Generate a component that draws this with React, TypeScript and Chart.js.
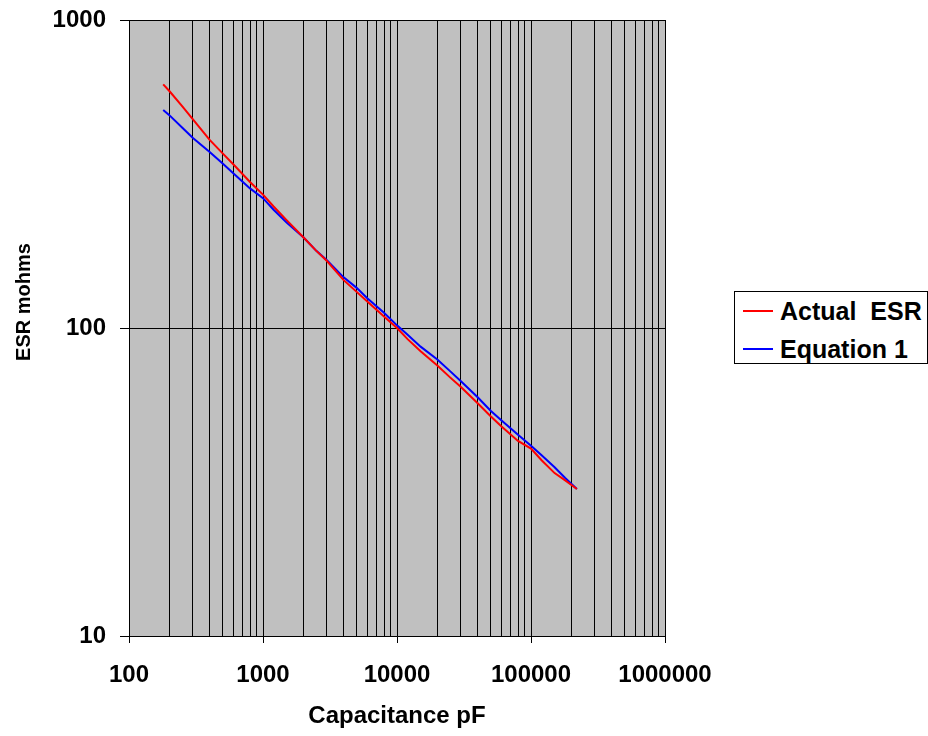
import React, { useEffect, useRef } from "react";
import { Chart, registerables } from "chart.js";

Chart.register(...registerables);

const capacitance = [180, 200, 250, 300, 400, 500, 600, 800, 1000, 1200, 1500, 2000, 2500, 3000, 4000, 5000, 6000, 8000, 10000, 12000, 15000, 20000, 25000, 30000, 40000, 50000, 60000, 80000, 100000, 120000, 150000, 180000, 220000];
const actualEsr = [618, 588, 524, 476, 408, 369, 340, 298, 271, 248, 224, 197, 178, 165, 143, 131, 122, 109, 100, 92, 84, 75.5, 69, 64.3, 57, 51.7, 48, 43, 40.6, 37.2, 33.8, 32, 30];
const equation1 = [510, 491, 447, 414, 373, 342, 318, 284, 264, 242, 220, 197, 178, 166, 146, 135, 125, 112, 102, 95, 87, 79, 72.3, 67.2, 59.6, 53.9, 50.2, 45, 41.5, 38.6, 35.3, 32.6, 30];

const xTickLabels = ["100", "1000", "10000", "100000", "1000000"];
const yTickLabels = ["10", "100", "1000"];
const seriesNames = ["Actual  ESR", "Equation 1"];
const seriesColors = ["#FF0000", "#0000FF"];
const xTitle = "Capacitance pF";
const yTitle = "ESR mohms";

const FONT = "'Liberation Sans', Arial, sans-serif";

export default function App() {
  const ref = useRef<HTMLCanvasElement | null>(null);

  useEffect(() => {
    document.body.style.margin = "0";
    const canvas = ref.current;
    if (!canvas) return;

    const xMajors = xTickLabels.map(Number);
    const yMajors = yTickLabels.map(Number);
    const xAll: number[] = [];
    for (let i = 0; i < xMajors.length - 1; i++) {
      for (let m = 1; m < 10; m++) xAll.push(xMajors[i] * m);
    }
    xAll.push(xMajors[xMajors.length - 1]);

    const bgPlugin = {
      id: "plotBg",
      beforeDraw(chart: any) {
        const { ctx, chartArea } = chart;
        ctx.save();
        ctx.fillStyle = "#C0C0C0";
        ctx.fillRect(chartArea.left, chartArea.top, chartArea.right - chartArea.left, chartArea.bottom - chartArea.top);
        ctx.restore();
      },
      afterDraw(chart: any) {
        const { ctx, chartArea } = chart;
        ctx.save();
        ctx.fillStyle = "#000";
        ctx.textAlign = "center";
        ctx.textBaseline = "alphabetic";
        ctx.font = `bold 24px ${FONT}`;
        ctx.fillText(xTitle, (chartArea.left + chartArea.right) / 2, chartArea.bottom + 87);
        ctx.font = `bold 20px ${FONT}`;
        ctx.translate(30, (chartArea.top + chartArea.bottom) / 2 - 26);
        ctx.rotate(-Math.PI / 2);
        ctx.fillText(yTitle, 0, 0);
        ctx.restore();
      },
    };

    const chart = new Chart(canvas, {
      type: "line",
      data: {
        datasets: [
          {
            label: seriesNames[0],
            data: capacitance.map((c, i) => ({ x: c, y: actualEsr[i] })),
            borderColor: seriesColors[0],
            backgroundColor: seriesColors[0],
            borderWidth: 2,
            pointRadius: 0,
            tension: 0,
          },
          {
            label: seriesNames[1],
            data: capacitance.map((c, i) => ({ x: c, y: equation1[i] })),
            borderColor: seriesColors[1],
            backgroundColor: seriesColors[1],
            borderWidth: 2,
            pointRadius: 0,
            tension: 0,
          },
        ],
      },
      options: {
        animation: false,
        responsive: true,
        maintainAspectRatio: false,
        layout: { padding: { top: 20, right: 263, left: 0, bottom: 0 } },
        plugins: { legend: { display: false }, tooltip: { enabled: false } },
        scales: {
          x: {
            type: "logarithmic",
            min: 100,
            max: 1000000,
            afterBuildTicks: (scale: any) => {
              scale.ticks = xAll.map((v) => ({ value: v }));
            },
            afterFit: (scale: any) => {
              scale.height = 100;
              scale.paddingLeft = 0;
              scale.paddingRight = 0;
            },
            ticks: {
              autoSkip: false,
              maxRotation: 0,
              minRotation: 0,
              padding: 18,
              color: "#000",
              font: { family: FONT, size: 24, weight: "bold" },
              callback: (value: any) => {
                const idx = xMajors.indexOf(Number(value));
                return idx >= 0 ? xTickLabels[idx] : "";
              },
            },
            grid: {
              color: "#000",
              lineWidth: 1,
              tickLength: 7,
              tickColor: (ctx: any) => (ctx.tick && xMajors.indexOf(ctx.tick.value) >= 0 ? "#000" : "rgba(0,0,0,0)"),
            },
            border: { display: true, color: "#000" },
          },
          y: {
            type: "logarithmic",
            min: 10,
            max: 1000,
            afterBuildTicks: (scale: any) => {
              scale.ticks = yMajors.map((v) => ({ value: v }));
            },
            afterFit: (scale: any) => {
              scale.width = 129;
              scale.paddingTop = 0;
              scale.paddingBottom = 0;
            },
            ticks: {
              autoSkip: false,
              padding: 14,
              color: "#000",
              font: { family: FONT, size: 24, weight: "bold" },
              callback: (value: any) => {
                const idx = yMajors.indexOf(Number(value));
                return idx >= 0 ? yTickLabels[idx] : "";
              },
            },
            grid: { color: "#000", lineWidth: 1, tickLength: 9, tickColor: "#000" },
            border: { display: true, color: "#000" },
          },
        },
      },
      plugins: [bgPlugin],
    } as any);

    return () => chart.destroy();
  }, []);

  const rowStyle: React.CSSProperties = {
    position: "absolute",
    left: 8,
    display: "flex",
    alignItems: "center",
    height: 30,
    fontFamily: FONT,
    fontWeight: "bold",
    fontSize: 25,
    color: "#000",
    whiteSpace: "pre",
  };

  return (
    <div style={{ position: "relative", width: 928, height: 736, background: "#fff", overflow: "hidden" }}>
      <canvas ref={ref} />
      <div
        style={{
          position: "absolute",
          left: 734,
          top: 291,
          width: 192,
          height: 71,
          border: "1px solid #000",
          background: "#fff",
        }}
      >
        {seriesNames.map((name, i) => (
          <div key={name} style={{ ...rowStyle, top: i === 0 ? 4 : 42 }}>
            <span style={{ display: "inline-block", width: 30, height: 2, background: seriesColors[i], marginRight: 7 }} />
            <span>{name}</span>
          </div>
        ))}
      </div>
    </div>
  );
}
